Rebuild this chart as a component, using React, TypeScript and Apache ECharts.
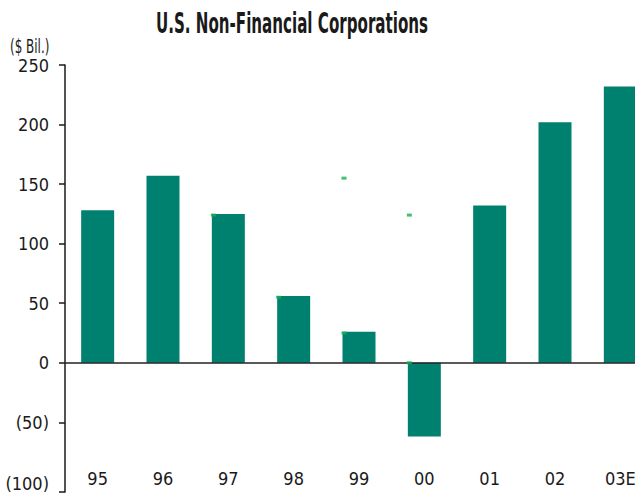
import React, { useEffect, useRef } from "react";
import * as echarts from "echarts";

const categories = ["95", "96", "97", "98", "99", "00", "01", "02", "03E"];
const barValues = [128, 157, 125, 56, 26, -62, 132, 202, 232];
const dotCategories = ["97", "98", "99", "99", "00", "00"];
const dotValues = [124, 55, 25, 155, 124, 0];
const tickValues = [-108.5, -50, 0, 50, 100, 150, 200, 250];
const tickLabels = ["(100)", "(50)", "0", "50", "100", "150", "200", "250"];

const FONT = "'DejaVu Sans Condensed', 'Liberation Sans Narrow', 'Roboto', sans-serif";

export default function App() {
  const ref = useRef<HTMLDivElement>(null);
  useEffect(() => {
    const chart = echarts.init(ref.current!, null, { renderer: "svg" });
    chart.setOption({
      animation: false,
      backgroundColor: "#ffffff",
      graphic: [
        {
          type: "text",
          x: 292,
          y: 9,
          scaleX: 0.6,
          style: {
            text: "U.S. Non-Financial Corporations",
            fontFamily: FONT,
            fontWeight: "bold",
            fontSize: 28,
            fill: "#1a1a1a",
            textAlign: "center",
            textVerticalAlign: "top",
          },
        },
        {
          type: "text",
          x: 10,
          y: 37,
          scaleX: 0.7,
          style: {
            text: "($ Bil.)",
            fontFamily: FONT,
            fontSize: 19,
            fill: "#1a1a1a",
            textAlign: "left",
            textVerticalAlign: "top",
          },
        },
      ],
      grid: { left: 65, top: 65, width: 588, height: 427, outerBoundsMode: "none", containLabel: false },
      xAxis: {
        type: "category",
        data: categories,
        axisLine: { show: false },
        axisTick: { show: false },
        axisLabel: {
          margin: -14,
          verticalAlign: "middle",
          fontFamily: FONT,
          fontSize: 18,
          color: "#1a1a1a",
        },
      },
      yAxis: {
        type: "value",
        min: -108.5,
        max: 250,
        splitLine: { show: false },
        axisLine: { show: true, lineStyle: { color: "#1a1a1a", width: 1.5 } },
        axisTick: {
          show: true,
          length: 6,
          customValues: tickValues,
          lineStyle: { color: "#1a1a1a", width: 1.5 },
        },
        axisLabel: {
          margin: 16,
          customValues: tickValues,
          fontFamily: FONT,
          fontSize: 18,
          color: "#1a1a1a",
          formatter: (v: number) => {
            const i = tickValues.indexOf(v);
            if (i < 0) return "";
            return i === 0 ? "{low|" + tickLabels[i] + "}" : tickLabels[i];
          },
          rich: {
            low: {
              fontFamily: FONT,
              fontSize: 18,
              lineHeight: 18,
              color: "#1a1a1a",
              padding: [0, 0, 18, 0],
            },
          },
        },
      },
      series: [
        {
          type: "bar",
          data: barValues,
          barWidth: "50.5%",
          itemStyle: { color: "#00806F" },
          markLine: {
            silent: true,
            symbol: "none",
            label: { show: false },
            lineStyle: { color: "#222222", width: 1.5, type: "solid" },
            data: [{ yAxis: 0 }],
          },
        },
        {
          type: "scatter",
          data: dotCategories.map((c, i) => [c, dotValues[i]]),
          symbol: "rect",
          symbolSize: [5, 3],
          symbolOffset: [-15, 0],
          itemStyle: { color: "#12B04B" },
          z: 5,
        },
      ],
    });
    return () => chart.dispose();
  }, []);
  return (
    <div
      ref={ref}
      style={{ width: 635, height: 494, position: "absolute", left: 0, top: 0 }}
    />
  );
}
